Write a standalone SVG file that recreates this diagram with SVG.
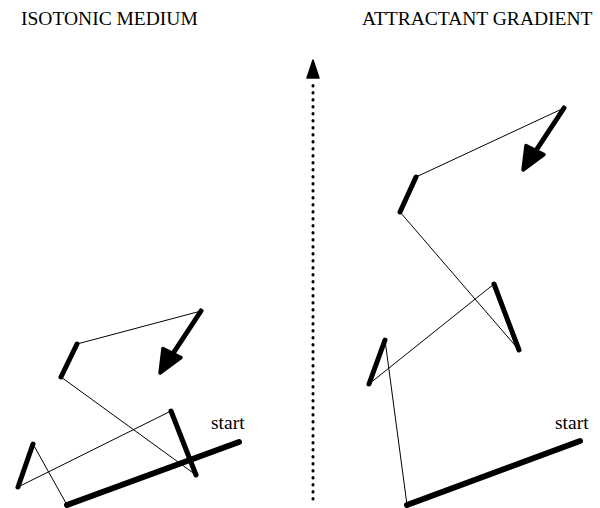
<svg xmlns="http://www.w3.org/2000/svg" width="600" height="508" viewBox="0 0 600 508">
<style>
.thin{stroke:#000;stroke-width:1;fill:none}
.thick{stroke:#000;stroke-width:5;stroke-linecap:round;fill:none}
.run{stroke:#000;stroke-width:6;stroke-linecap:round;fill:none}
.head{fill:#000;stroke:#000;stroke-width:3.5;stroke-linejoin:round}
</style>
<rect width="600" height="508" fill="#fff"/>
<g id="titles">
<text x="21" y="25" font-family="Liberation Serif" font-size="19.5">ISOTONIC MEDIUM</text>
<text x="362" y="25" font-family="Liberation Serif" font-size="19.5">ATTRACTANT GRADIENT</text>
</g>
<g id="left-path">
<polyline class="thin" points="67,505 33,444"/>
<polyline class="thin" points="18,487 171,411"/>
<polyline class="thin" points="196,475 61,377"/>
<polyline class="thin" points="77,344 201,311"/>
<line class="run" x1="239" y1="442" x2="67" y2="505"/>
<line class="thick" x1="33" y1="444" x2="18" y2="487"/>
<line class="thick" x1="171" y1="411" x2="196" y2="475"/>
<line class="thick" x1="61" y1="377" x2="77" y2="344"/>
<line class="thick" x1="201" y1="311" x2="174" y2="352"/>
<polygon class="head" points="160,373 181,357.5 163,348.5"/>
<text x="211" y="429" font-family="Liberation Serif" font-size="19.5">start</text>
</g>
<g id="right-path">
<polyline class="thin" points="407,505 385,340"/>
<polyline class="thin" points="369,384 494,284"/>
<polyline class="thin" points="519,350 400,212"/>
<polyline class="thin" points="416,177 564,108"/>
<line class="run" x1="580" y1="441" x2="407" y2="505"/>
<line class="thick" x1="385" y1="340" x2="369" y2="384"/>
<line class="thick" x1="494" y1="284" x2="519" y2="350"/>
<line class="thick" x1="400" y1="212" x2="416" y2="177"/>
<line class="thick" x1="564" y1="108" x2="537" y2="149"/>
<polygon class="head" points="523,170 544,154.5 526,145.5"/>
<text x="555" y="429" font-family="Liberation Serif" font-size="19.5">start</text>
</g>
<g id="connectors">
<line x1="313" y1="499" x2="313" y2="82" stroke="#000" stroke-width="3" stroke-linecap="round" stroke-dasharray="0.5 6.5"/>
<polygon points="313,60 319,78 307,78" fill="#000" stroke="#000" stroke-width="1.5" stroke-linejoin="round"/>
</g>
</svg>
